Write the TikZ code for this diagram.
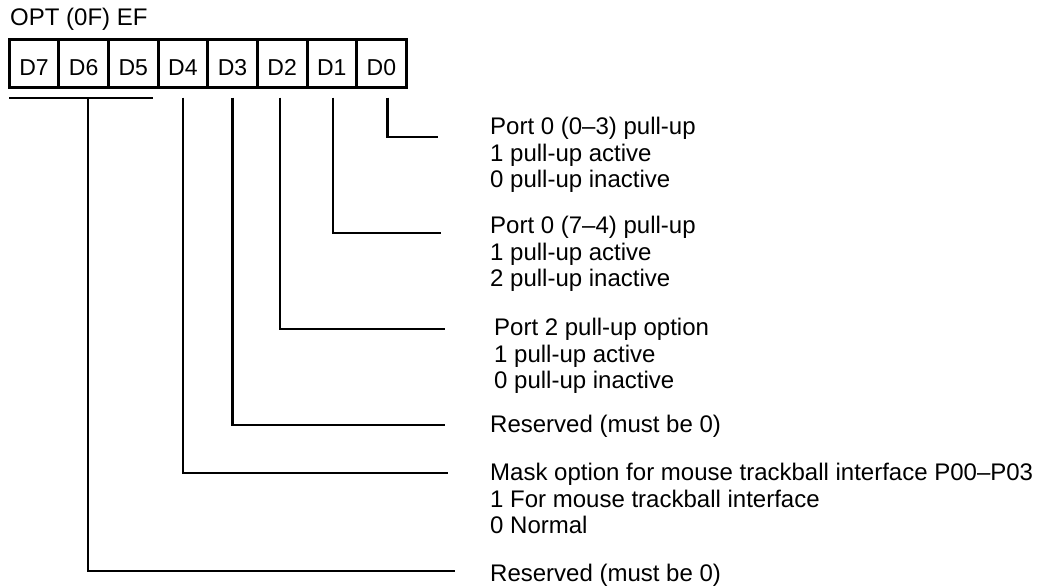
\documentclass[tikz,border=0pt]{standalone}
\usepackage{fontspec}
\setmainfont{Liberation Sans}
\usetikzlibrary{positioning}

\tikzset{
  cella/.style={draw, line width=1.5pt, minimum width=48.125pt, minimum height=47pt,
    inner sep=0pt, text height=24.5pt, text depth=0pt, font=\fontsize{23}{25}\selectfont},
  filo/.style={line width=2.2pt},
  descr/.style={anchor=north west, inner sep=0pt, align=left,
    font=\fontsize{24}{26.5}\selectfont}
}

\begin{document}
\begin{tikzpicture}[x=1pt, y=1pt]

        % Area del disegno
        \useasboundingbox (0,0) rectangle (1040,587);

        % Nome del registro
        \node[anchor=base west, inner sep=0pt, font=\fontsize{24}{26}\selectfont] (nome) at (10,561) {OPT (0F) EF};

        % Celle dei bit
        \node[cella] (d7) at (34.06,523.5) {D7};
        \node[cella, right=0pt of d7] (d6) {D6};
        \node[cella, right=0pt of d6] (d5) {D5};
        \node[cella, right=0pt of d5] (d4) {D4};
        \node[cella, right=0pt of d4] (d3) {D3};
        \node[cella, right=0pt of d3] (d2) {D2};
        \node[cella, right=0pt of d2] (d1) {D1};
        \node[cella, right=0pt of d1] (d0) {D0};

        % Bordo esterno del registro
        \draw[line width=3.2pt] (d7.north west) rectangle (d0.south east);

        % Descrizioni dei bit
        \node[descr] (t0) at (490,470) {Port 0 (0--3) pull-up\\1 pull-up active\\0 pull-up inactive};
        \node[descr] (t1) at (490,371) {Port 0 (7--4) pull-up\\1 pull-up active\\2 pull-up inactive};
        \node[descr] (t2) at (494,269) {Port 2 pull-up option\\1 pull-up active\\0 pull-up inactive};
        \node[descr] (t3) at (490,172) {Reserved (must be 0)};
        \node[descr] (t4) at (490,124) {Mask option for mouse trackball interface P00--P03\\1 For mouse trackball interface\\0 Normal};
        \node[descr] (t5) at (490,23) {Reserved (must be 0)};

        % Estremi delle linee
        \coordinate (e0) at (438,450);
        \coordinate (e1) at (441,354);
        \coordinate (e2) at (445,258);
        \coordinate (e3) at (445,162);
        \coordinate (e4) at (448,114);
        \coordinate (e5) at (455,16);

        % Linee di collegamento
        \draw[filo] ([xshift=6pt, yshift=-10pt]d0.south) |- (e0);
        \draw[filo] ([xshift=1pt, yshift=-10pt]d1.south) |- (e1);
        \draw[filo] ([xshift=-2pt, yshift=-10pt]d2.south) |- (e2);
        \draw[filo] ([yshift=-10pt]d3.south) |- (e3);
        \draw[filo] ([yshift=-10pt]d4.south) |- (e4);

        % Parentesi sotto D7--D5
        \draw[filo] ([yshift=-10pt]d7.south west) -- ([xshift=-5pt, yshift=-10pt]d5.south east);
        \draw[filo] ([xshift=4pt, yshift=-10pt]d6.south) |- (e5);

    \end{tikzpicture}
\end{document}
